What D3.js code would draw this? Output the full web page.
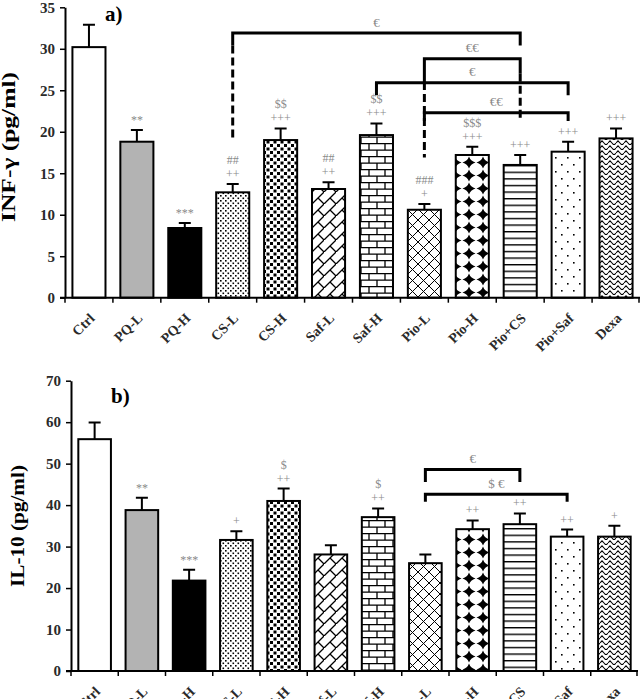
<!DOCTYPE html>
<html>
<head>
<meta charset="utf-8">
<script src="https://cdn.jsdelivr.net/npm/d3@7"></script>
<style>
body { margin: 0; background: #fff; }
text { font-family: "Liberation Serif", "DejaVu Serif", serif; }
</style>
</head>
<body>
<div id="vis"></div>
<script>
// frame size
const WIDTH = 640;
const HEIGHT = 699;

// data
const CATEGORIES = ["Ctrl", "PQ-L", "PQ-H", "CS-L", "CS-H", "Saf-L", "Saf-H", "Pio-L", "Pio-H", "Pio+CS", "Pio+Saf", "Dexa"];

const IFN_MEAN = [30.2, 18.8, 8.4, 12.7, 19.0, 13.1, 19.6, 10.6, 17.2, 16.0, 17.6, 19.2];
const IFN_SEM  = [2.7, 1.4, 0.6, 1.0, 1.4, 0.8, 1.4, 0.7, 1.0, 1.2, 1.2, 1.2];
const IFN_TICKS = [0, 5, 10, 15, 20, 25, 30, 35];
const IFN_MARKS = [[], ["**"], ["***"], ["++", "##"], ["+++", "$$"], ["++", "##"], ["+++", "$$"],
                   ["+", "###"], ["+++", "$$$"], ["+++"], ["+++"], ["+++"]];
// level = y value of the bracket bar, left/right = [solid end, dashed end]
const IFN_BRACKETS = [
    {from: "CS-L", to: "Pio+CS", level: 31.9, left: [30.4, 19.3], right: [30.4, null], label: "€"},
    {from: "Pio-L", to: "Pio+CS", level: 28.8, left: [26.0, 16.9], right: [27.0, 21.4], label: "€€"},
    {from: "Saf-H", to: "Pio+Saf", level: 25.9, left: [24.4, null], right: [24.4, null], label: "€"},
    {from: "Pio-L", to: "Pio+Saf", level: 22.3, left: [21.3, null], right: [21.3, null], label: "€€"}
];

const IL10_MEAN = [55.9, 38.8, 21.8, 31.6, 41.0, 28.1, 37.1, 26.0, 34.2, 35.4, 32.4, 32.4];
const IL10_SEM  = [4.0, 3.0, 2.6, 2.1, 3.0, 2.2, 2.1, 2.1, 2.1, 2.6, 1.7, 2.6];
const IL10_TICKS = [0, 10, 20, 30, 40, 50, 60, 70];
const IL10_MARKS = [[], ["**"], ["***"], ["+"], ["++", "$"], [], ["++", "$"], [], ["++"], ["++"], ["++"], ["+"]];
const IL10_BRACKETS = [
    {from: "Pio-L", to: "Pio+CS", level: 48.6, left: [45.6, null], right: [45.6, null], label: "€"},
    {from: "Pio-L", to: "Pio+Saf", level: 42.6, left: [40.8, null], right: [40.8, null], label: "$ €"}
];

// bar fills, one per category
const FILLS = ["#ffffff", "#b3b3b3", "#000000", "url(#p-dots)", "url(#p-squares)", "url(#p-dbrick)",
               "url(#p-hbrick)", "url(#p-cross)", "url(#p-diamond)", "url(#p-hlines)", "url(#p-sparse)", "url(#p-wave)"];

const MARK_GRAY = "#8a8a8a";

const FRAME = d3.select("#vis")
    .append("svg")
        .attr("width", WIDTH)
        .attr("height", HEIGHT);

FRAME.append("rect").attr("width", WIDTH).attr("height", HEIGHT).attr("fill", "#fff");

// ---- patterns ----
const defs = FRAME.append("defs");
function addPattern(id, w, h, draw) {
    const p = defs.append("pattern")
        .attr("id", id)
        .attr("patternUnits", "userSpaceOnUse")
        .attr("width", w)
        .attr("height", h);
    p.append("rect").attr("width", w).attr("height", h).attr("fill", "#fff");
    draw(p);
}
addPattern("p-dots", 5, 5, (p) => {
    p.append("rect").attr("x", 0).attr("y", 0).attr("width", 1.6).attr("height", 1.6).attr("fill", "#000");
    p.append("rect").attr("x", 2.5).attr("y", 2.5).attr("width", 1.6).attr("height", 1.6).attr("fill", "#000");
});
addPattern("p-squares", 7, 7, (p) => {
    p.append("rect").attr("x", 0.5).attr("y", 0.5).attr("width", 3).attr("height", 3).attr("fill", "#000");
    p.append("rect").attr("x", 4).attr("y", 4).attr("width", 3).attr("height", 3).attr("fill", "#000");
});
addPattern("p-dbrick", 12, 12, (p) => {
    p.append("path").attr("d", "M-1,13 L13,-1 M6,6 L12,12").attr("stroke", "#000").attr("stroke-width", 1.3).attr("fill", "none");
});
addPattern("p-hbrick", 16, 13, (p) => {
    p.append("path").attr("d", "M0,0.6 H16 M0,7.1 H16 M1,0 V6.5 M9,6.5 V13")
        .attr("stroke", "#000").attr("stroke-width", 1.3).attr("fill", "none");
});
addPattern("p-cross", 11, 11, (p) => {
    p.append("path").attr("d", "M0,0 L11,11 M11,0 L0,11").attr("stroke", "#000").attr("stroke-width", 1).attr("fill", "none");
});
addPattern("p-diamond", 14, 13, (p) => {
    p.append("path")
        .attr("d", "M7,0.5 Q8.5,5 13.5,6.5 Q8.5,8 7,12.5 Q5.5,8 0.5,6.5 Q5.5,5 7,0.5 Z")
        .attr("fill", "#000");
});
addPattern("p-hlines", 8, 6.6, (p) => {
    p.append("rect").attr("x", 0).attr("y", 0).attr("width", 8).attr("height", 1.4).attr("fill", "#000");
});
addPattern("p-sparse", 12, 14, (p) => {
    p.append("rect").attr("x", 3).attr("y", 3).attr("width", 1.6).attr("height", 1.6).attr("fill", "#000");
    p.append("rect").attr("x", 9).attr("y", 10).attr("width", 1.6).attr("height", 1.6).attr("fill", "#000");
});
addPattern("p-wave", 8, 5, (p) => {
    p.append("path").attr("d", "M0,3 L2,0.8 L4,3 L6,5.2 L8,3")
        .attr("stroke", "#000").attr("stroke-width", 1.1).attr("fill", "none");
});

// ---- one panel ----
function drawPanel(cfg) {
    const X_SCALE = d3.scaleBand()
        .domain(CATEGORIES)
        .range([cfg.left, cfg.right])
        .paddingInner(0.31)
        .paddingOuter(0.155);
    const Y_SCALE = d3.scaleLinear()
        .domain([0, d3.max(cfg.ticks)])
        .range([cfg.bottom, cfg.top]);

    const rows = CATEGORIES.map((c, i) => ({cat: c, mean: cfg.mean[i], sem: cfg.sem[i], marks: cfg.marks[i], fill: FILLS[i]}));
    const cx = (d) => X_SCALE(d) + X_SCALE.bandwidth() / 2;

    const g = FRAME.append("g");

    // bars
    g.selectAll(".bar")
        .data(rows)
        .enter().append("rect")
            .attr("class", "bar")
            .attr("x", (d) => X_SCALE(d.cat))
            .attr("y", (d) => Y_SCALE(d.mean))
            .attr("width", X_SCALE.bandwidth())
            .attr("height", (d) => Y_SCALE(0) - Y_SCALE(d.mean))
            .attr("fill", (d) => d.fill)
            .attr("stroke", "#000")
            .attr("stroke-width", 2);

    // error bars
    g.selectAll(".err")
        .data(rows)
        .enter().append("path")
            .attr("class", "err")
            .attr("d", (d) => {
                const xc = cx(d.cat), y0 = Y_SCALE(d.mean), y1 = Y_SCALE(d.mean + d.sem);
                return "M" + xc + "," + y0 + "V" + y1 + "M" + (xc - 6) + "," + y1 + "H" + (xc + 6);
            })
            .attr("stroke", "#000")
            .attr("stroke-width", 2)
            .attr("fill", "none");

    // significance marks above the error bars
    rows.forEach((d) => {
        d.marks.forEach((m, k) => {
            g.append("text")
                .attr("x", cx(d.cat))
                .attr("y", Y_SCALE(d.mean + d.sem) - 10 - 14 * k)
                .attr("text-anchor", "middle")
                .attr("dominant-baseline", "central")
                .attr("font-size", 12)
                .attr("fill", MARK_GRAY)
                .text(m);
        });
    });

    // brackets
    cfg.brackets.forEach((b) => {
        const xl = cx(b.from), xr = cx(b.to), yl = Y_SCALE(b.level);
        g.append("path")
            .attr("d", "M" + xl + "," + Y_SCALE(b.left[0]) + "V" + yl + "H" + xr + "V" + Y_SCALE(b.right[0]))
            .attr("stroke", "#000").attr("stroke-width", 3).attr("fill", "none");
        [[xl, b.left], [xr, b.right]].forEach(([xx, leg]) => {
            if (leg[1] !== null) {
                g.append("line")
                    .attr("x1", xx).attr("x2", xx)
                    .attr("y1", Y_SCALE(leg[0])).attr("y2", Y_SCALE(leg[1]))
                    .attr("stroke", "#000").attr("stroke-width", 3)
                    .attr("stroke-dasharray", "8,4");
            }
        });
        g.append("text")
            .attr("x", (xl + xr) / 2)
            .attr("y", yl - 11)
            .attr("text-anchor", "middle")
            .attr("dominant-baseline", "central")
            .attr("font-size", 13)
            .attr("fill", MARK_GRAY)
            .text(b.label);
    });

    // y axis
    const yAxis = g.append("g")
        .attr("transform", "translate(" + cfg.left + ",0)")
        .call(d3.axisLeft(Y_SCALE).tickValues(cfg.ticks).tickSize(5).tickSizeOuter(0).tickPadding(5))
        .attr("font-family", "Liberation Serif, serif")
        .attr("font-size", 15)
        .attr("font-weight", "bold");
    yAxis.select(".domain").attr("stroke-width", 2);
    yAxis.selectAll(".tick line").attr("stroke-width", 1.5);
    yAxis.selectAll(".tick text").attr("fill", "#2a2a2a");

    // x axis line and ticks at band edges
    g.append("line")
        .attr("x1", cfg.left - 5).attr("x2", cfg.right)
        .attr("y1", Y_SCALE(0)).attr("y2", Y_SCALE(0))
        .attr("stroke", "#000").attr("stroke-width", 2);
    g.selectAll(".xtick")
        .data(d3.range(CATEGORIES.length + 1))
        .enter().append("line")
            .attr("class", "xtick")
            .attr("x1", (i) => Math.min(cfg.right - 1, cfg.left + i * X_SCALE.step()))
            .attr("x2", (i) => Math.min(cfg.right - 1, cfg.left + i * X_SCALE.step()))
            .attr("y1", Y_SCALE(0))
            .attr("y2", Y_SCALE(0) + 5)
            .attr("stroke", "#000").attr("stroke-width", 1.5);

    // x labels, rotated
    g.selectAll(".xlab")
        .data(CATEGORIES)
        .enter().append("text")
            .attr("class", "xlab")
            .attr("transform", (d) => "translate(" + (cx(d) + 3) + "," + (Y_SCALE(0) + 18) + ") rotate(-45)")
            .attr("text-anchor", "end")
            .attr("dy", "0.35em")
            .attr("font-size", 14)
            .attr("font-weight", "bold")
            .attr("fill", "#2a2a2a")
            .text((d) => d);

    // y title
    g.append("text")
        .attr("transform", "translate(" + cfg.titleX + "," + cfg.titleY + ") rotate(-90)")
        .attr("text-anchor", "middle")
        .attr("font-size", 18)
        .attr("font-weight", "bold")
        .attr("textLength", cfg.titleLen)
        .attr("lengthAdjust", "spacingAndGlyphs")
        .text(cfg.title);

    // panel letter
    g.append("text")
        .attr("x", cfg.left + 40)
        .attr("y", cfg.top + cfg.letterDy)
        .attr("font-size", 21)
        .attr("font-weight", "bold")
        .text(cfg.letter);
}

drawPanel({
    left: 65, right: 640, top: 7.3, bottom: 297.7,
    mean: IFN_MEAN, sem: IFN_SEM, marks: IFN_MARKS, ticks: IFN_TICKS, brackets: IFN_BRACKETS,
    title: "INF-γ  (pg/ml)", titleX: 15, titleY: 147, titleLen: 150,
    letter: "a)", letterDy: 14
});

drawPanel({
    left: 71, right: 638, top: 380.7, bottom: 671,
    mean: IL10_MEAN, sem: IL10_SEM, marks: IL10_MARKS, ticks: IL10_TICKS, brackets: IL10_BRACKETS,
    title: "IL-10  (pg/ml)", titleX: 24, titleY: 526, titleLen: 122,
    letter: "b)", letterDy: 22
});
</script>
</body>
</html>
